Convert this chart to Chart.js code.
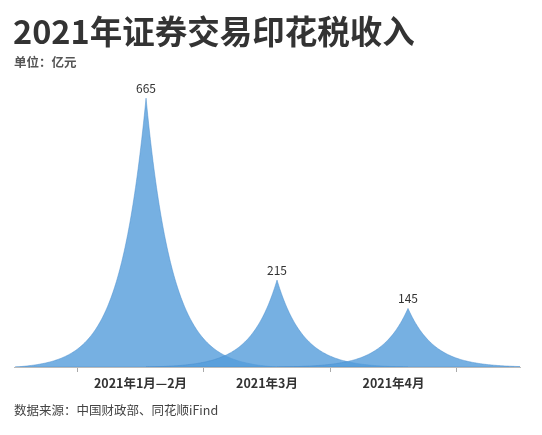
<!DOCTYPE html>
<html><head><meta charset="utf-8">
<script src="https://cdn.jsdelivr.net/npm/chart.js@4/dist/chart.umd.min.js"></script>
<style>html,body{margin:0;padding:0;background:#fff}#wrap{width:542px;height:435px;position:relative}</style>
</head><body><div id="wrap"><canvas id="c"></canvas></div>
<script>
const categories = ['2021年1月—2月', '2021年3月', '2021年4月'];
const values = [665, 215, 145];
const titleText = '2021年证券交易印花税收入';
const unitText = '单位：亿元';
const sourceText = '数据来源：中国财政部、同花顺iFind';
const FONT = '"Noto Sans CJK SC","Noto Sans",sans-serif';

const peakPlugin = {
  id: 'peaks',
  afterDatasetsDraw(chart) {
    const ctx = chart.ctx, meta = chart.getDatasetMeta(0);
    const xs = chart.scales.xs, y = chart.scales.y;
    const base = y.getPixelForValue(0);
    const unit = xs.getPixelForValue(1) - xs.getPixelForValue(0);
    const halfW = unit * 1.0, k = 5, ek = Math.exp(-k), norm = 1 - ek;
    const N = 150;
    ctx.save();
    ctx.beginPath();
    ctx.rect(chart.chartArea.left, 0, chart.chartArea.right - chart.chartArea.left, base);
    ctx.clip();
    meta.data.forEach(pt => {
      const h = base - pt.y;
      ctx.beginPath();
      for (let i = 0; i <= N; i++) {
        const t = 1 - i / N;
        const px = pt.x - t * halfW, py = base - h * (Math.exp(-k * t) - ek) / norm;
        if (i === 0) ctx.moveTo(px, py); else ctx.lineTo(px, py);
      }
      for (let i = 1; i <= N; i++) {
        const t = i / N;
        ctx.lineTo(pt.x + t * halfW, base - h * (Math.exp(-k * t) - ek) / norm);
      }
      ctx.closePath();
      ctx.fillStyle = 'rgba(84,156,219,0.8)';
      ctx.fill();
      ctx.lineWidth = 0.8;
      ctx.strokeStyle = 'rgba(70,140,205,0.6)';
      ctx.stroke();
    });
    ctx.restore();
    ctx.save();
    ctx.font = '12px ' + FONT;
    ctx.fillStyle = '#333';
    ctx.textAlign = 'center';
    ctx.textBaseline = 'alphabetic';
    meta.data.forEach((pt, i) => {
      ctx.fillText(String(values[i]), pt.x, pt.y - 5);
    });
    ctx.restore();
  },
  afterDraw(chart) {
    const ctx = chart.ctx;
    ctx.save();
    ctx.textAlign = 'left';
    ctx.textBaseline = 'alphabetic';
    ctx.fillStyle = '#333';
    ctx.font = 'bold 32.5px ' + FONT;
    ctx.fillText(titleText, 13, 44);
    ctx.fillStyle = '#555';
    ctx.font = 'bold 12.5px ' + FONT;
    ctx.fillText(unitText, 14, 67);
    ctx.fillStyle = '#444';
    ctx.font = '12.5px ' + FONT;
    ctx.fillText(sourceText, 14, 415);
    ctx.restore();
  }
};

new Chart(document.getElementById('c'), {
  type: 'line',
  data: {
    labels: [''].concat(categories, ['']),
    datasets: [{
      data: values.map((v, i) => ({ x: i, y: v })),
      xAxisID: 'xs',
      yAxisID: 'y',
      showLine: false,
      pointRadius: 0,
      pointHoverRadius: 0
    }]
  },
  options: {
    responsive: true,
    maintainAspectRatio: false,
    animation: false,
    events: [],
    layout: { padding: { top: 84, left: 14, right: 22, bottom: 40 } },
    plugins: { legend: { display: false }, tooltip: { enabled: false }, title: { display: false } },
    scales: {
      x: {
        type: 'category',
        offset: false,
        grid: { display: true, drawOnChartArea: false, offset: true, tickLength: 5, color: '#aaa', lineWidth: 1 },
        border: { display: true, color: '#bbb', width: 1 },
        ticks: { color: '#333', font: { family: FONT, size: 12.5, weight: 'bold' }, padding: 4, maxRotation: 0, autoSkip: false }
      },
      xs: {
        type: 'linear',
        display: false,
        min: -1.008,
        max: 2.855
      },
      y: {
        type: 'linear',
        display: false,
        min: 0,
        max: 700
      }
    }
  },
  plugins: [peakPlugin]
});
</script>
</body></html>
